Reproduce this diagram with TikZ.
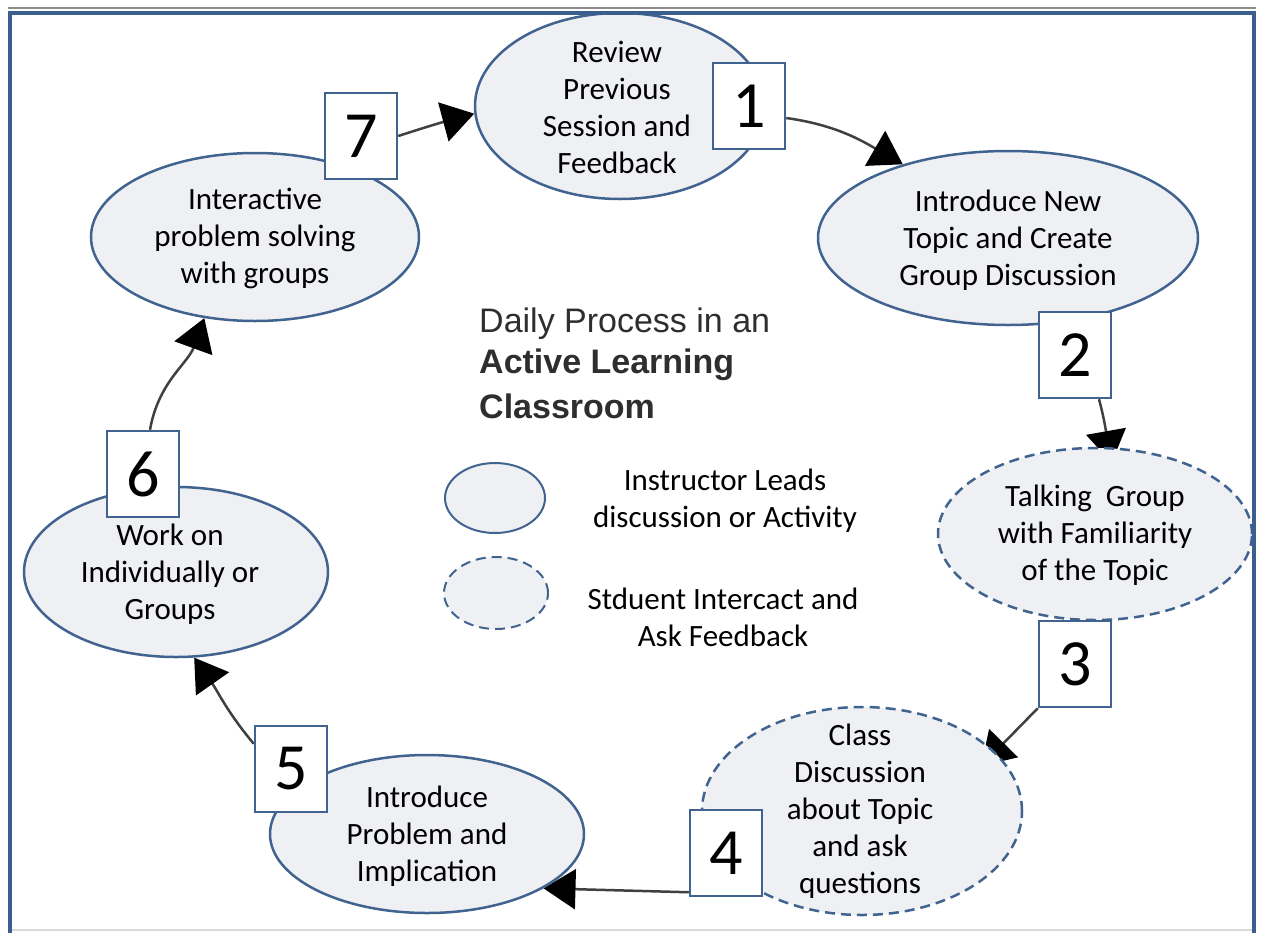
\documentclass[tikz,border=0pt]{standalone}
\usepackage{fontspec}
\setmainfont{Carlito}
\newfontfamily\titlefont{Liberation Sans}
\usetikzlibrary{shapes.geometric,arrows.meta,backgrounds}
\definecolor{bord}{HTML}{41638F}
\definecolor{efill}{HTML}{EFF0F3}
\definecolor{frameblue}{HTML}{3A5F8F}
\begin{document}
\begin{tikzpicture}[x=1pt,y=1pt,
  ell/.style={ellipse, draw=bord, line width=2.5pt, fill=efill, inner sep=0pt},
  dell/.style={ell, dash pattern=on 10pt off 6pt},
  txt/.style={align=center, font=\fontsize{31}{37}\selectfont, inner sep=0pt},
  numbox/.style={draw=bord, line width=2.5pt, fill=white, minimum width=72pt, minimum height=86pt, inner sep=0pt, font=\fontsize{66}{66}\selectfont},
  conn/.style={draw=black!75, line width=2.5pt, -{Triangle[length=32pt,width=40pt,color=black]}},
  ttl/.style={anchor=base west, inner sep=0pt, text=black!82, font=\titlefont\fontsize{34}{43}\selectfont}
]
\useasboundingbox (0,0) rectangle (1261,-932);

% ellipses
\node[ell,minimum width=290pt,minimum height=186pt] (e1) at (620,-106) {};
\node[txt] (t1) at (617,-107) {Review\\Previous\\Session and\\Feedback};
\node[ell,minimum width=380pt,minimum height=174pt] (e2) at (1008,-238) {};
\node[txt] (t2) at (1008,-240) {Introduce New\\Topic and Create\\Group Discussion};
\node[dell,minimum width=314pt,minimum height=172pt] (e3) at (1095,-534) {};
\node[txt] (t3) at (1095,-535) {Talking\ \ Group\\with Familiarity\\of the Topic};
\node[dell,minimum width=320pt,minimum height=208pt] (e4) at (862,-811) {};
\node[txt] (t4) at (860,-811) {Class\\Discussion\\about Topic\\and ask\\questions};
\node[ell,minimum width=314pt,minimum height=158pt] (e5) at (427,-834) {};
\node[txt] (t5) at (427,-836) {Introduce\\Problem and\\Implication};
\node[ell,minimum width=304pt,minimum height=170pt] (e6) at (176,-572) {};
\node[txt] (t6) at (170,-574) {Work on\\Individually or\\Groups};
\node[ell,minimum width=328pt,minimum height=168pt] (e7) at (255,-237) {};
\node[txt] (t7) at (255,-238) {Interactive\\problem solving\\with groups};

% number boxes
\node[numbox] (b1) at (749,-106) {1};
\node[numbox] (b2) at (1075,-355) {2};
\node[numbox] (b3) at (1075,-664) {3};
\node[numbox] (b4) at (726,-853) {4};
\node[numbox] (b5) at (291,-769) {5};
\node[numbox] (b6) at (143,-474) {6};
\node[numbox] (b7) at (361,-136) {7};

% title
\node[ttl] (ti1) at (479,-332) {Daily Process in an};
\node[ttl] (ti2) at (479,-373) {\bfseries Active Learning};
\node[ttl] (ti3) at (479,-418) {\bfseries Classroom};

% legend
\node[ell,line width=2pt,minimum width=100pt,minimum height=70pt] (l1) at (495,-498) {};
\node[dell,line width=2pt,minimum width=104pt,minimum height=72pt] (l2) at (496,-593) {};
\node[txt] (lt1) at (725,-501) {Instructor Leads\\discussion or Activity};
\node[txt] (lt2) at (723,-617) {Stduent Intercact and\\Ask Feedback};

\begin{scope}[on background layer]
\fill[white] (0,0) rectangle (1261,-932);
\draw[conn] ([yshift=-12pt]b1.east) to[out=-8,in=150] (e2.145);
\draw[conn,shorten >=-16pt] ([xshift=24pt]b2.south) to[out=-75,in=100] (e3.81);
\draw[conn,shorten >=-20pt] (b3.south west) -- (e4.24);
\draw[conn] ([yshift=5pt]b4.south west) -- (e5.-25);
\draw[conn] ([yshift=-19pt]b5.north west) to[out=130,in=-55] (e6.-78);
\draw[conn] ([xshift=7pt]b6.north) to[out=80,in=-110] (e7.-122);
\draw[conn] (b7.east) to[out=18,in=195] (e1.183);
\end{scope}

% frame
\draw[black!45, line width=2pt] (8,-8) -- (1256,-8);
\draw[black!15, line width=2pt] (10,-930) -- (1254,-930);
\draw[frameblue, line width=4pt] (10,-934) -- (10,-13) -- (1254,-13) -- (1254,-934);
\end{tikzpicture}
\end{document}
